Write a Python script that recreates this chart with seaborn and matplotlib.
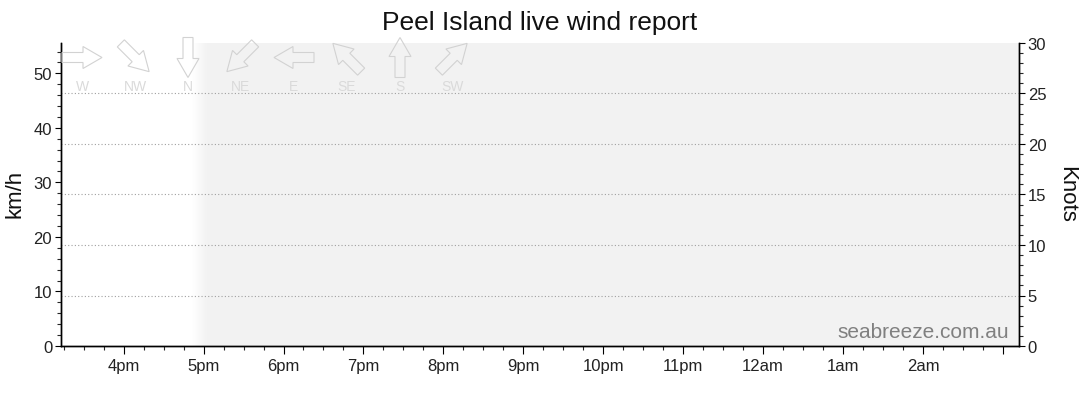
import numpy as np
import pandas as pd
import matplotlib
matplotlib.use("Agg")
import matplotlib.pyplot as plt
import seaborn as sns
from matplotlib.patches import Polygon
from matplotlib.ticker import FixedLocator, MultipleLocator

# ---------------- data ----------------
title = "Peel Island live wind report"
hour_ticks = [16, 17, 18, 19, 20, 21, 22, 23, 24, 25, 26, 27]
hour_labels = ["4pm", "5pm", "6pm", "7pm", "8pm", "9pm", "10pm", "11pm",
               "12am", "1am", "2am", ""]
window_start = 15 + 13 / 60      # 3:13pm
window_end = 27 + 12 / 60        # 3:12am
shade_start = 17.05              # shading fully on just after 5pm
shade_fade = 0.2                 # fade-in width (hours)
knots_max = 30
kmh_per_knot = 1.852
grid_knots = [5, 10, 15, 20, 25]
directions = ["W", "NW", "N", "NE", "E", "SE", "S", "SW"]
arrow_heading = [0, -45, -90, -135, 180, 135, 90, 45]  # direction arrow points (deg)
obs_hours = []   # no observations reported
obs_kmh = []
watermark = "seabreeze.com.au"

# ---------------- style ----------------
sns.set_style("white")
plt.rcParams["font.family"] = ["Liberation Sans", "DejaVu Sans"]

W, H, DPI = 1080, 414, 100
fig = plt.figure(figsize=(W / DPI, H / DPI), dpi=DPI)
L, R, B, T = 61, 1019, 347, 44
ax = fig.add_axes([L / W, 1 - B / H, (R - L) / W, (B - T) / H])

# empty observation series via seaborn
obs = pd.DataFrame({"hour": pd.Series(obs_hours, dtype=float),
                    "kmh": pd.Series(obs_kmh, dtype=float)})
sns.lineplot(data=obs, x="hour", y="kmh", ax=ax, color="#1f77b4")

ymax = knots_max * kmh_per_knot
ax.set_xlabel("")
ax.set_ylabel("")

# shading with a soft gradient edge
ax.axvspan(shade_start, window_end, color="#f2f2f2", lw=0, zorder=0)
grad = np.linspace(0, 1, 64).reshape(1, -1)
ax.imshow(grad, extent=[shade_start - shade_fade, shade_start, 0, ymax],
          aspect="auto", cmap=matplotlib.colors.LinearSegmentedColormap.from_list(
              "g", ["#ffffff", "#f2f2f2"]), vmin=0, vmax=1, zorder=0,
          interpolation="bilinear")
ax.set_xlim(window_start, window_end)
ax.set_ylim(0, ymax)

ax2 = ax.twinx()
ax2.set_ylim(0, knots_max)
for k in grid_knots:
    ax2.axhline(k, color="#a0a0a0", lw=0.8, linestyle=(0, (1, 2)), zorder=1)

for a in (ax, ax2):
    for s in a.spines.values():
        s.set_linewidth(1.0)
        s.set_color("black")
    a.spines["top"].set_visible(False)

ax.xaxis.set_major_locator(FixedLocator(hour_ticks))
ax.set_xticklabels(hour_labels)
ax.xaxis.set_minor_locator(MultipleLocator(0.25))
ax.yaxis.set_major_locator(MultipleLocator(10))
ax.yaxis.set_minor_locator(MultipleLocator(2))
ax2.yaxis.set_major_locator(MultipleLocator(5))
ax2.yaxis.set_minor_locator(MultipleLocator(1))

ax.tick_params(axis="x", which="major", direction="out", length=5.8, width=0.8,
               labelsize=12, pad=3, bottom=True, colors="black")
ax.tick_params(axis="x", which="minor", direction="out", length=3, width=0.8, bottom=True)
ax.tick_params(axis="y", which="major", direction="out", length=4.3, width=0.8,
               labelsize=12, pad=2, left=True, colors="black")
ax.tick_params(axis="y", which="minor", direction="out", length=3, width=0.8, left=True)
ax2.tick_params(axis="y", which="major", direction="out", length=4.3, width=0.8,
                labelsize=12, pad=2, right=True, colors="black")
ax2.tick_params(axis="y", which="minor", direction="out", length=3, width=0.8, right=True)
for lab in ax.get_xticklabels() + ax.get_yticklabels() + ax2.get_yticklabels():
    lab.set_color("#222222")

# titles / axis labels
fig.text(0.5, 1 - 30 / H, title, ha="center", va="baseline", fontsize=19, color="#111111")
fig.text(15 / W, 1 - 194 / H, "km/h", rotation=90, ha="center", va="center",
         fontsize=16, color="#111111")
fig.text(1067 / W, 1 - 194 / H, "Knots", rotation=-90, ha="center", va="center",
         fontsize=16, color="#111111")
fig.text(1009 / W, 1 - 338 / H, watermark, ha="right", va="baseline",
         fontsize=15, color="#808080")

# direction icons (overlay in pixel coordinates)
ov = fig.add_axes([0, 0, 1, 1], facecolor="none")
ov.set_xlim(0, W)
ov.set_ylim(H, 0)
ov.axis("off")
shape = np.array([[-20, -5], [1, -5], [1, -11], [20, 0], [1, 11], [1, 5], [-20, 5]])
x0, dx, yc = 82, 53.0, 58.5
for i, (d, ang) in enumerate(zip(directions, arrow_heading)):
    th = np.deg2rad(ang)
    rot = np.array([[np.cos(th), -np.sin(th)], [np.sin(th), np.cos(th)]])
    pts = shape @ rot.T
    pts[:, 1] = -pts[:, 1]
    cx = x0 + i * dx
    ov.add_patch(Polygon(pts + [cx, yc], closed=True, facecolor="none",
                         edgecolor="#d2d2d2", lw=0.8))
    ov.text(cx, 87, d, ha="center", va="center", fontsize=10, color="#dadada")

fig.savefig("out.png", dpi=DPI)
